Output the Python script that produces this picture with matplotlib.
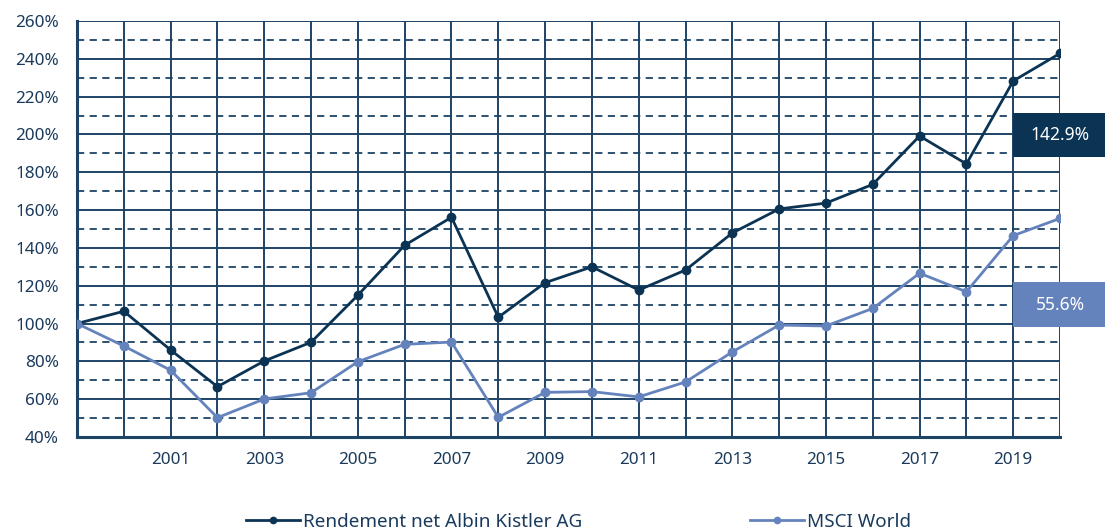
import matplotlib.pyplot as plt
import matplotlib.patches as mpatches
import numpy as np

years = list(range(1999, 2021))
kistler = [100, 106.5, 86, 66.6, 80.2, 90.1, 115, 141.4, 156.2, 103.3, 121.6, 130,
           117.7, 128.3, 147.9, 160.6, 163.7, 173.6, 199.2, 184.4, 228.3, 242.9]
msci = [100, 88.1, 75.3, 50.2, 60.1, 63.4, 79.8, 89, 90.2, 50.4, 63.6, 64,
        61.2, 69.1, 85, 99.2, 98.7, 108, 126.6, 116.8, 146.5, 155.6]
series_names = ["Rendement net Albin Kistler AG", "MSCI World"]
end_labels = ["142.9%", "55.6%"]
end_label_y = [199.7, 110]

DARK = "#0b3354"
LIGHT = "#6483bd"
GRID = "#1d4366"
TEXT = "#1a3a5c"

plt.rcParams["font.family"] = ["Noto Sans", "DejaVu Sans"]

fig = plt.figure(figsize=(11.05, 5.32), dpi=100)
ax = fig.add_axes([0.0697, 0.1786, 0.8896, 0.7819])

# grid: solid every 20%, dashed at the odd tens
for v in range(60, 261, 20):
    ax.axhline(v, color=GRID, lw=1.4, zorder=1)
for v in range(50, 251, 20):
    ax.axhline(v, color=GRID, lw=1.3, ls=(0, (4, 3)), zorder=1)
for y in years[1:]:
    ax.axvline(y, color=GRID, lw=1.4, zorder=1)

ax.plot(years, kistler, color=DARK, lw=2, marker="o", ms=6, zorder=3, label=series_names[0])
ax.plot(years, msci, color=LIGHT, lw=2, marker="o", ms=6, zorder=3, label=series_names[1])

ax.set_xlim(1999, 2020)
ax.set_ylim(40, 260)
ax.set_xticks(range(2001, 2020, 2))
ax.set_yticks(range(40, 261, 20))
ax.set_yticklabels([f"{v}%" for v in range(40, 261, 20)])
ax.tick_params(length=0, labelsize=12.3, labelcolor=TEXT)
ax.tick_params(axis="y", pad=13)
ax.tick_params(axis="x", pad=11)

for s in ["top", "right"]:
    ax.spines[s].set_visible(False)
for s in ["left", "bottom"]:
    ax.spines[s].set_color(GRID)
    ax.spines[s].set_linewidth(2.2)

# end value boxes
for lab, yv, col in zip(end_labels, end_label_y, [DARK, LIGHT]):
    rect = mpatches.Rectangle((2019, yv - 11.8), 2.1, 23.6, facecolor=col,
                              edgecolor="none", clip_on=False, zorder=5)
    ax.add_patch(rect)
    ax.text(2020, yv, lab, color="white", fontsize=12.5, ha="center", va="center",
            zorder=6, clip_on=False)

leg = fig.legend(loc="lower center", bbox_to_anchor=(0.5235, -0.03), ncol=2, frameon=False,
                 fontsize=13.6, columnspacing=8.9, handlelength=2.85, handletextpad=0.16,
                 markerscale=0.75)
for t in leg.get_texts():
    t.set_color(TEXT)

fig.savefig("out.png", dpi=100)
